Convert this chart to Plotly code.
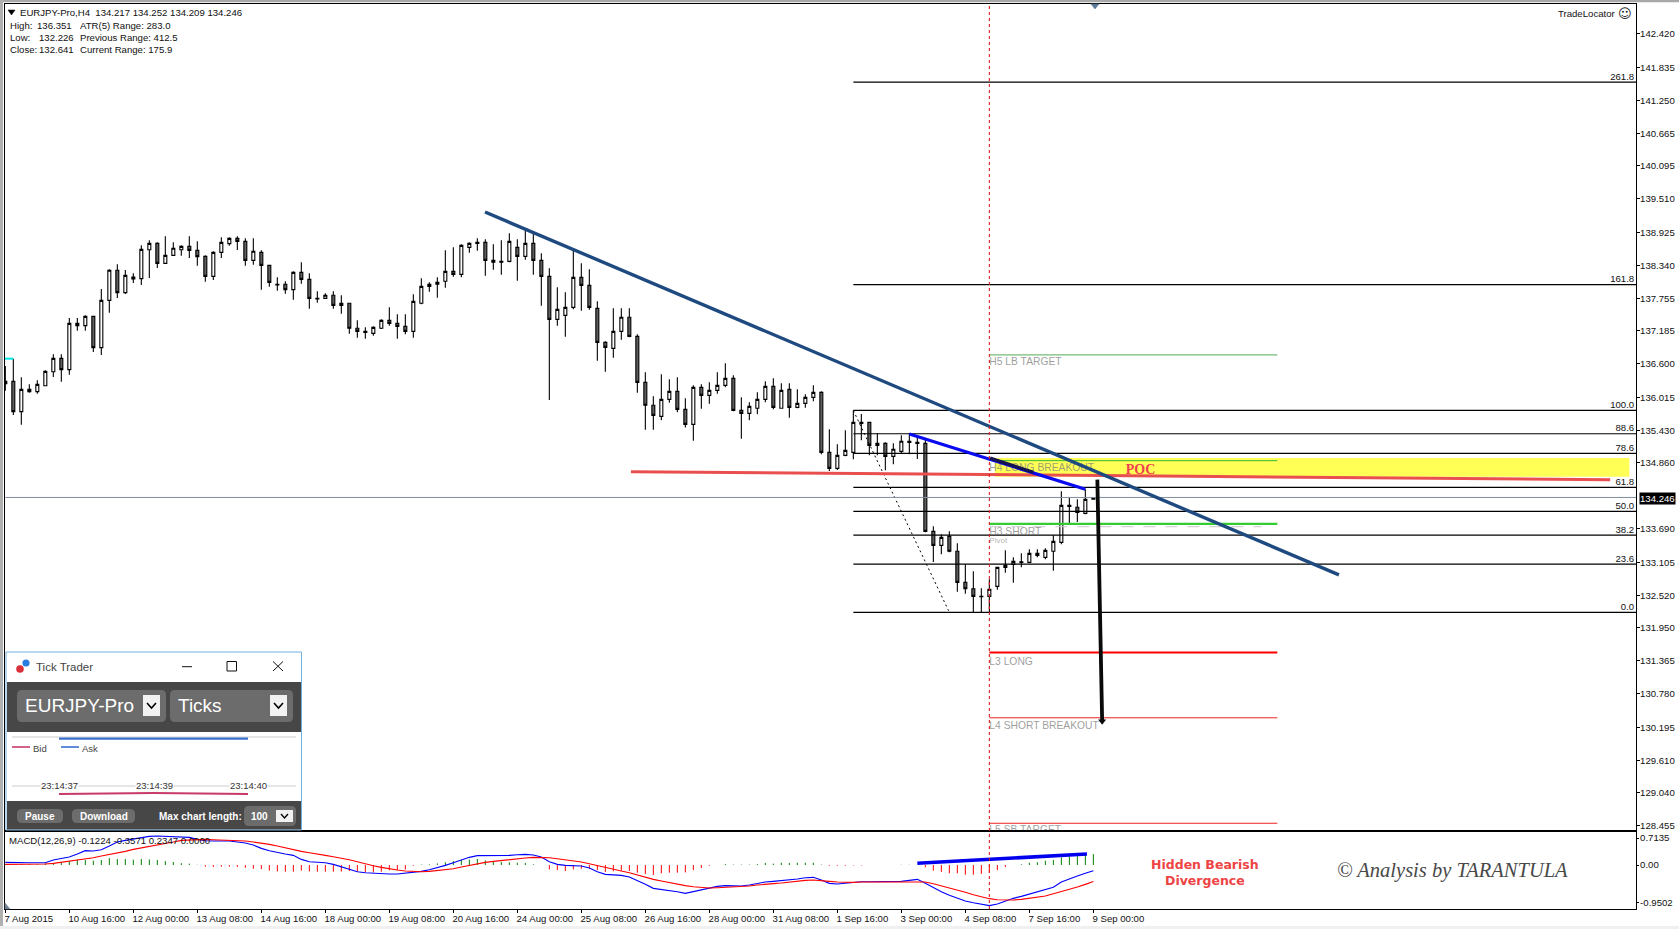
import plotly.graph_objects as go

W, H = 1679, 929

opens = [136.253,136.294,135.759,136.153,136.112,136.217,136.464,136.699,136.500,137.317,137.276,137.440,136.888,137.722,138.252,137.858,138.134,138.105,138.616,138.728,
138.375,138.516,138.616,138.675,138.604,138.498,138.146,138.569,138.722,138.816,138.763,138.428,138.569,138.340,138.005,138.005,137.911,138.216,138.093,137.758,
137.758,137.811,137.634,137.670,137.229,137.176,137.140,137.229,137.370,137.317,137.264,137.176,137.670,137.969,138.005,138.058,138.234,138.181,138.657,138.745,
138.745,138.428,138.410,138.410,138.657,138.498,138.728,138.428,138.146,137.387,137.458,137.599,138.128,137.987,137.581,136.982,136.876,137.176,137.423,137.087,
136.276,135.871,135.676,135.976,136.117,135.800,135.535,136.188,136.047,136.135,136.223,136.347,135.782,135.729,135.818,135.976,136.206,135.818,136.153,135.835,
135.906,136.012,136.100,135.041,134.759,134.989,135.041,135.571,135.571,135.165,135.200,134.971,135.059,135.236,135.218,135.200,133.648,133.401,133.560,133.296,
132.749,132.637,132.502,132.502,132.678,133.013,133.066,133.113,133.101,133.260,133.190,133.296,133.454,134.107,134.072,133.966,134.217]
highs = [136.564,136.694,136.364,136.241,136.311,136.488,136.770,136.770,137.411,137.411,137.458,137.440,137.922,138.269,138.357,138.257,138.199,138.692,138.781,138.745,
138.851,138.745,138.692,138.851,138.763,138.516,138.587,138.834,138.834,138.851,138.816,138.816,138.604,138.340,138.128,138.058,138.234,138.393,138.199,137.881,
137.846,137.881,137.811,137.670,137.370,137.246,137.264,137.387,137.599,137.476,137.476,137.828,138.110,138.040,138.128,138.604,138.657,138.710,138.745,138.816,
138.798,138.710,138.781,138.904,138.798,138.957,138.904,138.551,138.287,137.952,137.864,138.622,138.375,138.269,137.705,137.000,137.581,137.581,137.581,137.123,
136.453,136.029,136.417,136.329,136.364,135.994,136.223,136.241,136.276,136.453,136.611,136.400,136.012,135.923,136.100,136.294,136.347,136.259,136.259,136.153,
136.065,136.223,136.117,135.447,135.183,135.430,135.776,135.718,135.571,135.377,135.218,135.200,135.341,135.377,135.341,135.271,133.736,133.595,133.648,133.437,
133.066,132.943,132.643,132.802,133.013,133.313,133.190,133.260,133.331,133.331,133.349,133.578,134.354,134.242,134.213,134.389,134.252]
lows = [136.129,135.700,135.530,136.094,136.076,136.206,136.370,136.288,136.411,137.187,137.187,136.811,136.758,137.505,137.764,137.834,138.028,137.993,138.116,138.293,
138.375,138.510,138.510,138.469,138.334,138.052,138.081,138.469,138.687,138.610,138.334,138.351,137.911,137.963,137.893,137.840,137.734,138.016,137.575,137.681,
137.752,137.575,137.487,137.134,137.064,137.046,137.099,137.217,137.276,137.046,137.123,137.064,137.652,137.875,137.769,137.946,138.140,138.128,138.563,138.598,
138.157,138.263,138.175,138.393,138.069,138.440,138.175,137.628,135.965,137.276,137.081,137.564,137.540,137.558,136.658,136.464,136.711,137.029,137.070,136.094,
135.441,135.441,135.606,135.918,135.747,135.482,135.247,135.812,135.900,136.076,136.188,135.765,135.283,135.606,135.712,135.923,135.800,135.818,135.653,135.818,
135.829,135.941,135.006,134.712,134.730,134.971,134.918,135.253,134.989,134.989,134.724,134.830,135.024,135.006,134.924,133.631,133.107,133.243,133.278,132.584,
132.549,132.220,132.220,132.220,132.619,132.919,132.743,133.013,133.084,133.190,133.154,132.955,133.419,133.772,133.813,133.948,134.209]
closes = [136.294,135.759,136.153,136.112,136.241,136.470,136.699,136.500,137.317,137.276,137.440,136.888,137.722,138.252,137.858,138.163,138.099,138.622,138.728,138.375,
138.516,138.640,138.675,138.604,138.493,138.146,138.569,138.745,138.816,138.763,138.428,138.587,138.340,138.040,137.993,137.911,138.216,138.093,137.758,137.746,
137.811,137.634,137.670,137.229,137.176,137.158,137.246,137.370,137.317,137.264,137.176,137.705,137.969,138.005,138.040,138.234,138.181,138.692,138.728,138.728,
138.428,138.393,138.393,138.763,138.498,138.728,138.428,138.146,137.387,137.564,137.599,138.128,137.987,137.599,136.982,136.893,137.176,137.423,137.087,136.276,
135.871,135.694,135.976,136.117,135.800,135.535,136.188,136.047,136.135,136.223,136.347,135.782,135.729,135.853,135.976,136.206,135.835,136.135,135.835,135.906,
136.012,136.100,135.041,134.759,134.989,135.077,135.571,135.553,135.165,135.200,134.971,135.095,135.236,135.218,135.200,133.648,133.401,133.542,133.296,132.749,
132.637,132.502,132.496,132.625,133.013,133.048,133.119,133.101,133.260,133.225,133.313,133.472,134.107,134.089,133.983,134.213,134.246]

macd_line = [.058,.05,.05,.05,.05,.05,.108,.137,.173,.238,.31,.302,.331,.41,.497,.533,.562,.598,.619,.626,.619,.619,.619,.598,.554,.526,.518,.518,.518,.497,
.475,.432,.36,.31,.266,.238,.209,.122,.072,.058,.05,.014,-.036,-.086,-.144,-.166,-.18,-.187,-.194,-.194,-.18,-.166,-.137,-.101,-.058,-.007,.05,.108,.166,.202,
.202,.194,.194,.209,.223,.23,.216,.173,.072,.014,-.007,-.014,-.022,-.065,-.144,-.202,-.216,-.223,-.259,-.331,-.418,-.504,-.526,-.547,-.576,-.612,-.576,-.54,-.511,-.461,
-.446,-.446,-.454,-.432,-.396,-.367,-.353,-.338,-.324,-.302,-.274,-.266,-.324,-.396,-.41,-.396,-.367,-.36,-.36,-.36,-.367,-.36,-.353,-.331,-.31,-.396,-.49,-.576,-.655,-.713,
-.778,-.814,-.85,-.878,-.842,-.778,-.72,-.677,-.626,-.59,-.54,-.482,-.367,-.295,-.238,-.18,-.1224]
signal_line = [.014,.014,.014,.014,.014,.022,.036,.058,.079,.101,.13,.158,.194,.223,.259,.295,.338,.367,.403,.439,.468,.497,.533,.54,.554,.554,.547,.54,.54,.533,
.518,.497,.475,.446,.41,.367,.324,.295,.266,.23,.209,.18,.151,.115,.072,.022,-.014,-.05,-.086,-.108,-.13,-.144,-.144,-.137,-.122,-.101,-.079,-.043,-.007,.022,
.058,.079,.101,.115,.137,.151,.166,.166,.158,.137,.115,.101,.065,.029,-.014,-.043,-.086,-.13,-.166,-.216,-.259,-.31,-.346,-.382,-.418,-.446,-.468,-.49,-.497,-.49,
-.482,-.475,-.468,-.454,-.432,-.41,-.403,-.389,-.367,-.346,-.331,-.324,-.331,-.353,-.367,-.374,-.374,-.367,-.367,-.367,-.36,-.353,-.353,-.353,-.353,-.367,-.403,-.446,-.497,-.54,
-.59,-.641,-.684,-.727,-.749,-.756,-.756,-.742,-.72,-.698,-.67,-.619,-.576,-.526,-.475,-.418,-.3571]
hist_values = [.02,.015,.015,.015,.015,.035,.04,.06,.085,.115,.11,.095,.11,.15,.13,.13,.115,.13,.12,.11,.085,.065,.04,.03,.005,-.035,-.04,-.035,-.035,-.04,
-.06,-.08,-.09,-.12,-.14,-.145,-.145,-.12,-.14,-.145,-.145,-.145,-.14,-.13,-.145,-.16,-.16,-.145,-.115,-.11,-.095,-.015,.01,.015,.035,.06,.085,.11,.12,.13,
.10,.08,.065,.06,.05,.045,.015,0,-.095,-.11,-.13,-.095,-.08,-.08,-.11,-.15,-.135,-.12,-.13,-.165,-.195,-.215,-.18,-.165,-.165,-.16,-.11,-.065,-.015,0,
.02,.01,.01,.01,.02,.045,.03,.05,.045,.05,.05,.05,.01,-.015,-.015,-.015,-.01,-.01,0,0,0,0,.005,.005,0,-.05,-.12,-.15,-.18,-.18,
-.21,-.21,-.19,-.165,-.11,-.045,0,.015,.05,.06,.095,.11,.165,.18,.19,.215,.2347]

bars = list(range(len(opens)))
axis_labels = ["7 Aug 2015","10 Aug 16:00","12 Aug 00:00","13 Aug 08:00","14 Aug 16:00","18 Aug 00:00","19 Aug 08:00","20 Aug 16:00","24 Aug 00:00",
               "25 Aug 08:00","26 Aug 16:00","28 Aug 00:00","31 Aug 08:00","1 Sep 16:00","3 Sep 00:00","4 Sep 08:00","7 Sep 16:00","9 Sep 00:00"]
price_ticks = [142.420,141.835,141.250,140.665,140.095,139.510,138.925,138.340,137.755,137.185,136.600,136.015,135.430,134.860,
               133.690,133.105,132.520,131.950,131.365,130.780,130.195,129.610,129.040,128.455]

fib_names = ["261.8","161.8","100.0","88.6","78.6","61.8","50.0","38.2","23.6","0.0"]
fib_prices = [141.57,138.00,135.783,135.37,135.025,134.425,134.00,133.58,133.07,132.22]
fib_label_lift = 0.085
fib_span = [106, 203.83]

level_names = ["H5 LB TARGET","H4 LONG BREAKOUT","H3 SHORT","L3 LONG","L4 SHORT BREAKOUT","L5 SB TARGET"]
level_prices = [136.76,134.895,133.78,131.51,130.36,128.50]
level_label_prices = [136.62,134.755,133.625,131.34,130.21,128.37]
level_colors = ["#55aa55","#33bb33","#33cc33","#ff0000","#ee2222","#ee2222"]
level_widths = [1,1,2.2,2,1,1]
level_span = [123.0, 159]

trend_x, trend_y = [59.96,166.7], [139.28,132.88]
poc_x, poc_y = [78.2,200.6], [134.70,134.56]
div_x, div_y = [113,135.0], [135.365,134.39]
div_dark_x, div_dark_y = [123.1,128.5], [134.94,134.69]
fall_x, fall_y = [106,117.9], [135.78,132.25]
arrow_x, arrow_y = [136.5,137.1], [134.56,130.30]
macd_div_x, macd_div_y = [114,135.2], [.037,.238]
yellow_x, yellow_y = [123.7,203.0], [134.61,134.94]
last_price = 134.246
pivot_price = 133.73


def fx(x):
    return x / W


def fy(y):
    return 1 - y / H


def rect(x0, y0, x1, y1, fill, line=None, lw=0, layer="above"):
    return dict(type="rect", xref="paper", yref="paper", x0=fx(x0), y0=fy(y0), x1=fx(x1), y1=fy(y1),
                fillcolor=fill, line=dict(color=line or fill, width=lw), layer=layer)


def rrect(x0, y0, x1, y1, r, fill):
    pts = (f"M{fx(x0+r)},{fy(y0)} L{fx(x1-r)},{fy(y0)} Q{fx(x1)},{fy(y0)} {fx(x1)},{fy(y0+r)} "
           f"L{fx(x1)},{fy(y1-r)} Q{fx(x1)},{fy(y1)} {fx(x1-r)},{fy(y1)} L{fx(x0+r)},{fy(y1)} "
           f"Q{fx(x0)},{fy(y1)} {fx(x0)},{fy(y1-r)} L{fx(x0)},{fy(y0+r)} Q{fx(x0)},{fy(y0)} {fx(x0+r)},{fy(y0)} Z")
    return dict(type="path", xref="paper", yref="paper", path=pts, fillcolor=fill, line=dict(width=0), layer="above")


def poly(points, color, width=1, fill=None):
    d = "M" + " L".join(f"{fx(a)},{fy(b)}" for a, b in points)
    if fill:
        d += " Z"
    return dict(type="path", xref="paper", yref="paper", path=d,
                fillcolor=fill or "rgba(0,0,0,0)", line=dict(color=color, width=width), layer="above")


def circle(cx, cy, r, fill):
    return dict(type="circle", xref="paper", yref="paper", x0=fx(cx-r), x1=fx(cx+r), y0=fy(cy-r), y1=fy(cy+r),
                fillcolor=fill, line=dict(width=0), layer="above")


def txt(x, y, s, size=9.6, color="#111111", anchor="left", family="Liberation Sans", bg=None):
    d = dict(xref="paper", yref="paper", x=fx(x), y=fy(y), text=s, showarrow=False, xanchor=anchor, yanchor="middle",
             font=dict(size=size, color=color, family=family), borderpad=0)
    if bg:
        d["bgcolor"] = bg
    return d


def stems(keep):
    xs, ys = [], []
    for b, v in zip(bars, hist_values):
        if keep(v):
            xs += [b, b, None]
            ys += [0, v, None]
    return xs, ys


fig = go.Figure()

for p in fib_prices:
    fig.add_trace(go.Scatter(x=fib_span, y=[p, p], mode="lines", line=dict(color="black", width=1.2)))
fig.add_trace(go.Scatter(x=fall_x, y=fall_y, mode="lines", line=dict(color="black", width=1, dash="2px,3px")))
fig.add_trace(go.Scatter(x=[bars[0], 203.83], y=[last_price, last_price], mode="lines", line=dict(color="#8090a0", width=1)))
for p, c, w in zip(level_prices, level_colors, level_widths):
    fig.add_trace(go.Scatter(x=level_span, y=[p, p], mode="lines", line=dict(color=c, width=w)))
fig.add_trace(go.Scatter(x=[123.0, 157], y=[pivot_price, pivot_price], mode="lines",
                         line=dict(color="#c8c8c8", width=1, dash="12px,10px")))
fig.add_trace(go.Scatter(x=level_span[:1] * len(level_names), y=level_label_prices, mode="text",
                         text=level_names, textposition="middle right", cliponaxis=True,
                         textfont=dict(size=10.3, color="rgba(125,125,125,0.75)", family="Liberation Sans")))
fig.add_trace(go.Scatter(x=[123.0], y=[133.47], mode="text", text=["Pivot"], textposition="middle right",
                         textfont=dict(size=8, color="rgba(125,125,125,0.6)", family="Liberation Sans")))

fig.add_trace(go.Candlestick(x=bars, open=opens, high=highs, low=lows, close=closes, whiskerwidth=0,
                             increasing=dict(line=dict(color="black", width=1.1), fillcolor="white"),
                             decreasing=dict(line=dict(color="black", width=1.1), fillcolor="#606060")))
fig.add_trace(go.Scatter(x=[-0.04, 1], y=[136.694, 136.694], mode="lines", line=dict(color="#00e5e5", width=2)))

fig.add_trace(go.Scatter(x=poc_x, y=poc_y, mode="lines", line=dict(color="#e94f4f", width=3)))
fig.add_trace(go.Scatter(x=div_x, y=div_y, mode="lines", line=dict(color="#0a0af0", width=3.2)))
fig.add_trace(go.Scatter(x=div_dark_x, y=div_dark_y, mode="lines", line=dict(color="#141450", width=3.2)))
fig.add_trace(go.Scatter(x=trend_x, y=trend_y, mode="lines", line=dict(color="#1f4a80", width=3.4)))
fig.add_trace(go.Scatter(x=arrow_x, y=arrow_y, mode="lines", line=dict(color="#0a0a0a", width=3.8)))
fig.add_trace(go.Scatter(x=arrow_x[1:], y=arrow_y[1:], mode="markers",
                         marker=dict(symbol="triangle-down", size=7, color="#0a0a0a")))
fig.add_trace(go.Scatter(x=[141.9], y=[134.72], mode="text", text=["<b>POC</b>"], textposition="middle center",
                         textfont=dict(size=14, color="#ee4050", family="Liberation Serif")))

fig.add_trace(go.Scatter(x=[203.6] * len(fib_names), y=[p + fib_label_lift for p in fib_prices], mode="text", text=fib_names,
                         textposition="middle left", textfont=dict(size=9.6, color="#111111", family="Liberation Sans")))

up_x, up_y = stems(lambda v: v >= 0)
down_x, down_y = stems(lambda v: v < 0)
fig.add_trace(go.Scatter(x=up_x, y=up_y, mode="lines", xaxis="x2", yaxis="y2", line=dict(color="#008000", width=1)))
fig.add_trace(go.Scatter(x=down_x, y=down_y, mode="lines", xaxis="x2", yaxis="y2", line=dict(color="#ff0000", width=1)))
fig.add_trace(go.Scatter(x=bars, y=macd_line, mode="lines", xaxis="x2", yaxis="y2", line=dict(color="#0000ff", width=1.1)))
fig.add_trace(go.Scatter(x=bars, y=signal_line, mode="lines", xaxis="x2", yaxis="y2", line=dict(color="#ff0000", width=1.1)))
fig.add_trace(go.Scatter(x=macd_div_x, y=macd_div_y, mode="lines", xaxis="x2", yaxis="y2", line=dict(color="#0000ee", width=3.6)))

shapes = [
    rect(0, 0, W, 2.2, "#a8a8a8", layer="below"),
    rect(0, 0, 3, H, "#b0b0b0", layer="below"),
    rect(0, 926, W, H, "#f0f0f0", layer="below"),
    dict(type="rect", xref="x", yref="y", x0=yellow_x[0], x1=yellow_x[1], y0=yellow_y[0], y1=yellow_y[1],
         fillcolor="#ffff55", line=dict(width=0), layer="below"),
    dict(type="line", xref="x", yref="paper", x0=123, x1=123, y0=fy(909), y1=fy(4),
         line=dict(color="#e01818", width=1.1, dash="3px,3px"), layer="above"),
    poly([(1091, 4), (1099, 4), (1095, 9)], "#5a7a9a", 0.5, "#5a7a9a"),
    poly([(8, 10), (15, 10), (11.5, 15)], "black", 0.5, "black"),
    poly([(5, 903), (10, 909), (5, 909)], "#708090", 0.5, "#708090"),
    rect(6, 652, 301.5, 830, "white", "#6fb0e0", 1),
    rect(7, 682, 301, 732, "#474747"),
    rect(7, 801, 301, 829.5, "#474747"),
    circle(26, 663, 3.6, "#2a7de1"),
    circle(20, 669, 3.8, "#d9303a"),
    poly([(182, 666.7), (192, 666.7)], "#111111", 1),
    rect(227, 661.5, 236.5, 671, "white", "#111111", 1),
    poly([(273, 661.5), (283, 671)], "#111111", 1),
    poly([(283, 661.5), (273, 671)], "#111111", 1),
    rrect(17, 690, 166, 722, 5, "#6c6c6c"),
    rrect(170, 690, 293, 722, 5, "#6c6c6c"),
    rect(143, 695, 160, 716, "#f2f2f2"),
    rect(270, 695, 287, 716, "#f2f2f2"),
    poly([(147, 703), (151.5, 708), (156, 703)], "black", 1.6),
    poly([(274, 703), (278.5, 708), (283, 703)], "black", 1.6),
    poly([(12, 737), (296, 737)], "#cccccc", 1),
    poly([(12, 786), (296, 786)], "#cccccc", 1),
    poly([(59, 738.7), (248, 738.7)], "#3a6fd0", 2.2),
    poly([(59, 794), (154, 793), (248, 794)], "#c83a6a", 1.8),
    poly([(12, 747), (30, 747)], "#c83a6a", 1.6),
    poly([(61, 747), (79, 747)], "#3a6fd0", 1.6),
    rrect(17, 809, 63, 823, 5, "#6c6c6c"),
    rrect(72, 809, 135, 823, 5, "#6c6c6c"),
    rrect(244, 806, 296, 826, 5, "#6c6c6c"),
    rect(276, 810, 293, 822, "#f2f2f2"),
    poly([(281, 814), (284.5, 818), (288, 814)], "black", 1.3),
]

annotations = [
    txt(19, 12.5, "EURJPY-Pro,H4&nbsp;&nbsp;134.217 134.252 134.209 134.246"),
    txt(8.5, 25.7, "High:"), txt(36, 25.7, "136.351"), txt(79, 25.7, "ATR(5) Range: 283.0"),
    txt(8.5, 37.7, "Low:"), txt(37.5, 37.7, "132.226"), txt(79, 37.7, "Previous Range: 412.5"),
    txt(8.5, 49.7, "Close:"), txt(37.5, 49.7, "132.641"), txt(79, 49.7, "Current Range: 175.9"),
    txt(1617, 14, "TradeLocator", anchor="right"),
    txt(1625, 14, "☺", 13, "#222222", "center", "DejaVu Sans"),
    txt(8, 840, "MACD(12,26,9) -0.1224 -0.3571 0.2347 0.0000"),
    txt(1657, 498, "134.246", color="white", anchor="center", bg="black"),
    txt(1205, 864.5, "<b>Hidden Bearish</b>", 12.5, "#ee4444", "center", "DejaVu Sans"),
    txt(1205, 880, "<b>Divergence</b>", 12.5, "#ee4444", "center", "DejaVu Sans"),
    txt(1452, 870, "<i>© Analysis by TARANTULA</i>", 20.5, "#484848", "center", "Liberation Serif"),
    txt(35, 667, "Tick Trader", 11.5, "#444444"),
    txt(23.5, 705, "EURJPY-Pro", 19, "white"),
    txt(176.5, 705, "Ticks", 19, "white"),
    txt(31.5, 748, "Bid", 9.5, "#444444"),
    txt(80.5, 748, "Ask", 9.5, "#444444"),
    txt(59, 785, "23:14:37", 9.5, "#333333", "center", bg="white"),
    txt(154, 785, "23:14:39", 9.5, "#333333", "center", bg="white"),
    txt(248, 785, "23:14:40", 9.5, "#333333", "center", bg="white"),
    txt(40, 816, "<b>Pause</b>", 10, "white", "center"),
    txt(103.5, 816, "<b>Download</b>", 10, "white", "center"),
    txt(158, 816, "<b>Max chart length:</b>", 10, "white"),
    txt(250, 816, "<b>100</b>", 10, "white"),
]

axis_font = dict(size=9.6, color="#111111", family="Liberation Sans")
fig.update_layout(
    width=W, height=H, autosize=False, margin=dict(l=0, r=0, t=0, b=0),
    paper_bgcolor="white", plot_bgcolor="white", showlegend=False, hovermode=False,
    boxgap=0.47, shapes=shapes, annotations=annotations,
    xaxis=dict(domain=[fx(5), fx(1636)], range=[-0.04, 203.83], anchor="y", rangeslider=dict(visible=False),
               showgrid=False, zeroline=False, showticklabels=False, ticks="", showline=True, linecolor="black",
               linewidth=1.4, mirror=True),
    yaxis=dict(domain=[fy(830), fy(4)], range=[128.381, 142.949], side="right", anchor="x", tickvals=price_ticks,
               tickformat=".3f", ticks="outside", ticklen=3, tickcolor="black", tickfont=axis_font, showgrid=False,
               zeroline=False, showline=True, linecolor="black", linewidth=1.4, mirror=True, ticklabelstandoff=-2),
    xaxis2=dict(domain=[fx(5), fx(1636)], range=[-0.04, 203.83], anchor="y2", showgrid=False, zeroline=False,
                tickvals=bars[::8], ticktext=axis_labels, ticks="outside", ticklen=3, tickcolor="black",
                tickfont=axis_font, ticklabelposition="outside right", tickangle=0, showline=True, linecolor="black",
                linewidth=1.4, mirror=True, ticklabelshift=-2),
    yaxis2=dict(domain=[fy(909), fy(832)], range=[-0.9502, 0.7135], side="right", anchor="x2",
                tickvals=[0.583, 0, -0.82], ticktext=["0.7135", "0.00", "-0.9502"], ticks="outside", ticklen=2,
                tickcolor="black", tickfont=axis_font, showgrid=False, zeroline=False, showline=True,
                linecolor="black", linewidth=1.4, mirror=True, ticklabelstandoff=-1),
)

fig.write_html("out.html", post_script="document.body.style.margin='0';document.body.style.overflow='hidden';",
               config=dict(displayModeBar=False))
